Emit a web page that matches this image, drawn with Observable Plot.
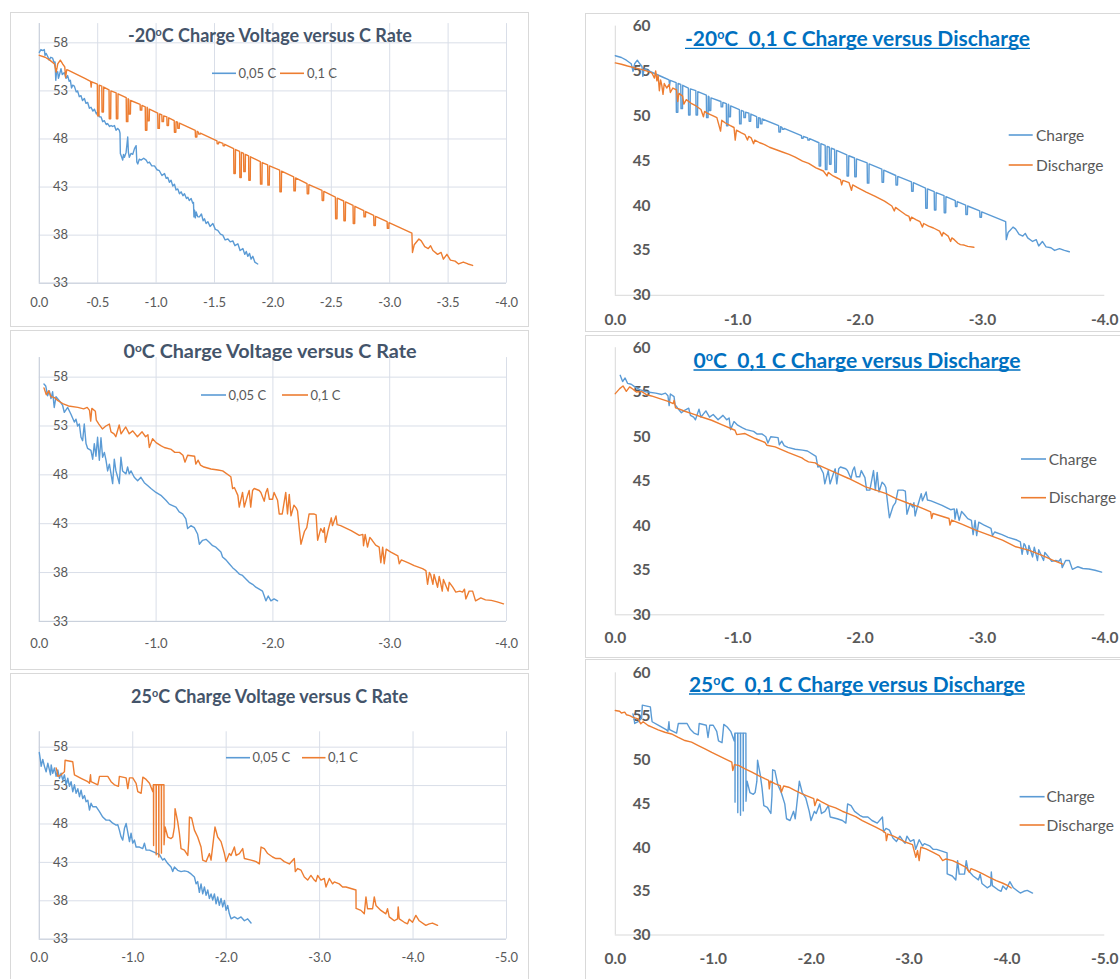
<!DOCTYPE html>
<html><head><meta charset="utf-8">
<script src="https://cdn.jsdelivr.net/npm/d3@7"></script>
<script src="https://cdn.jsdelivr.net/npm/@observablehq/plot@0.6"></script>
<style>
html,body{margin:0;padding:0;background:#fff;}
body{width:1120px;height:979px;overflow:hidden;position:relative;font-family:Lato,"Open Sans",sans-serif;}
.box{position:absolute;border:1px solid #d9d9d9;box-sizing:border-box;}
</style></head><body>
<script>
// ---------------- DATA (x = C rate, y = voltage) ----------------
const xTicksHalf = [0,-0.5,-1,-1.5,-2,-2.5,-3,-3.5,-4];
const xTicks4 = [0,-1,-2,-3,-4];
const xTicks5 = [0,-1,-2,-3,-4,-5];
const yTicksLeft = [33,38,43,48,53,58];
const yTicksRight = [30,35,40,45,50,55,60];

const leftTitles = [["-20","C Charge Voltage versus C Rate"],["0","C Charge Voltage versus C Rate"],["25","C Charge Voltage versus C Rate"]];
const rightTitles = [["-20","C  0,1 C Charge versus Discharge"],["0","C  0,1 C Charge versus Discharge"],["25","C  0,1 C Charge versus Discharge"]];
const leftNames = ["0,05 C","0,1 C"];
const rightNames = ["Charge","Discharge"];

// -20 C, 0.05 C
const m20_005 = [[0,57.0],[-0.014,57.3],[-0.029,57.2],[-0.043,57.3],[-0.049,56.7],[-0.058,56.9],[-0.071,56.6],[-0.085,56.2],[-0.098,56.5],[-0.114,56.4],[-0.128,55.9],[-0.135,56.0],[-0.141,54.1],[-0.147,54.9],[-0.157,55.0],[-0.164,54.3],[-0.171,54.6],[-0.186,55.3],[-0.197,54.7],[-0.215,54.9],[-0.229,54.3],[-0.242,54.6],[-0.256,54.0],[-0.266,54.1],[-0.276,53.3],[-0.286,53.6],[-0.300,53.5],[-0.316,52.9],[-0.328,53.0],[-0.342,52.4],[-0.357,52.5],[-0.370,52.0],[-0.386,52.2],[-0.400,51.7],[-0.414,51.8],[-0.429,51.2],[-0.443,51.3],[-0.459,50.9],[-0.472,51.1],[-0.489,50.6],[-0.500,50.8],[-0.513,50.3],[-0.528,50.3],[-0.543,49.8],[-0.557,49.9],[-0.573,49.5],[-0.585,49.6],[-0.602,49.3],[-0.614,49.4],[-0.629,49.3],[-0.643,49.4],[-0.657,48.9],[-0.671,49.1],[-0.685,48.9],[-0.691,48.6],[-0.694,46.5],[-0.706,46.1],[-0.714,45.8],[-0.721,46.4],[-0.729,46.1],[-0.743,46.6],[-0.751,47.5],[-0.757,48.2],[-0.763,46.6],[-0.771,46.1],[-0.785,46.5],[-0.800,46.4],[-0.815,47.0],[-0.829,47.3],[-0.835,45.6],[-0.843,45.4],[-0.856,45.9],[-0.871,45.8],[-0.894,46.0],[-0.915,45.8],[-0.929,45.5],[-0.943,45.6],[-0.963,45.2],[-0.986,45.2],[-1.008,44.8],[-1.028,44.7],[-1.050,44.2],[-1.072,44.4],[-1.087,43.9],[-1.100,44.0],[-1.114,43.5],[-1.128,43.7],[-1.143,43.1],[-1.157,43.3],[-1.171,42.7],[-1.186,42.8],[-1.200,42.3],[-1.214,42.5],[-1.230,42.1],[-1.243,42.3],[-1.260,41.8],[-1.272,41.95],[-1.284,41.6],[-1.300,41.8],[-1.314,41.3],[-1.320,41.4],[-1.324,39.9],[-1.329,40.6],[-1.336,39.8],[-1.343,40.4],[-1.357,39.9],[-1.371,39.9],[-1.388,40.2],[-1.403,39.5],[-1.414,39.7],[-1.428,39.2],[-1.443,39.4],[-1.462,38.9],[-1.486,39.2],[-1.507,38.6],[-1.528,38.5],[-1.551,38.1],[-1.571,38.0],[-1.591,37.5],[-1.615,37.6],[-1.635,37.3],[-1.657,37.4],[-1.675,36.9],[-1.700,37.1],[-1.719,36.4],[-1.743,36.6],[-1.759,36.0],[-1.772,36.3],[-1.785,35.8],[-1.800,36.1],[-1.813,35.5],[-1.828,35.8],[-1.845,35.2],[-1.87,35.0]];

// -20 C, 0.1 C (also the Charge curve of the -20 C comparison)
const m20_01 = [[0,56.7],[-0.05,56.5],[-0.09,56.2],[-0.13,55.8],[-0.145,54.95],[-0.158,55.8],[-0.18,56.2],[-0.20,55.8],[-0.218,55.5],[-0.225,54.4],[-0.235,55.2],[-0.242,55.19],[-0.390,54.3],[-0.439,54.0],[-0.444,53.4],[-0.449,53.95],
[-0.497,53.7],[-0.499,50.4],[-0.511,50.4],[-0.513,53.6],
[-0.535,53.5],[-0.537,50.8],[-0.549,50.8],[-0.551,53.4],
[-0.597,53.1],[-0.599,50.1],[-0.611,50.1],[-0.613,53.0],
[-0.658,52.8],[-0.660,50.1],[-0.672,50.1],[-0.674,52.7],
[-0.744,52.3],[-0.746,49.8],[-0.758,49.8],[-0.760,52.2],
[-0.766,52.1],[-0.768,50.6],[-0.780,50.6],[-0.782,52.0],
[-0.863,51.6],[-0.865,51.0],[-0.877,51.0],[-0.879,51.5],
[-0.907,51.35],[-0.909,48.9],[-0.921,48.9],[-0.923,51.3],
[-0.927,51.2],[-0.929,49.9],[-0.941,49.9],[-0.943,51.1],
[-1.014,50.7],[-1.016,49.1],[-1.028,49.1],[-1.030,50.6],
[-1.049,50.5],[-1.051,49.8],[-1.063,49.8],[-1.065,50.4],
[-1.092,50.3],[-1.094,49.4],[-1.106,49.4],[-1.108,50.2],
[-1.155,49.9],[-1.157,48.7],[-1.169,48.7],[-1.171,49.8],
[-1.184,49.75],[-1.186,49.1],[-1.198,49.1],[-1.200,49.65],
[-1.335,48.9],[-1.337,48.2],[-1.349,48.2],[-1.351,48.8],
[-1.363,48.7],[-1.365,48.5],[-1.377,48.5],[-1.379,48.6],
[-1.521,47.8],[-1.523,47.5],[-1.535,47.5],[-1.537,47.7],
[-1.572,47.55],[-1.574,47.3],[-1.586,47.3],[-1.588,47.45],
[-1.664,47.0],[-1.666,44.4],[-1.678,44.4],[-1.680,46.9],
[-1.715,46.7],[-1.717,44.0],[-1.729,44.0],[-1.731,46.6],
[-1.749,46.5],[-1.751,44.6],[-1.763,44.6],[-1.765,46.4],
[-1.792,46.25],[-1.794,43.7],[-1.806,43.7],[-1.808,46.15],
[-1.892,45.65],[-1.894,43.3],[-1.906,43.3],[-1.908,45.55],
[-1.955,45.3],[-1.957,43.2],[-1.969,43.2],[-1.971,45.2],
[-2.058,44.75],[-2.060,42.5],[-2.072,42.5],[-2.074,44.65],
[-2.178,44.05],[-2.180,42.6],[-2.192,42.6],[-2.194,43.95],
[-2.292,43.35],[-2.294,42.3],[-2.306,42.3],[-2.308,43.25],
[-2.420,42.65],[-2.422,41.6],[-2.434,41.6],[-2.436,42.55],
[-2.535,41.95],[-2.537,39.7],[-2.549,39.7],[-2.551,41.85],
[-2.606,41.55],[-2.608,39.5],[-2.620,39.5],[-2.622,41.45],
[-2.686,41.1],[-2.688,39.2],[-2.700,39.2],[-2.702,41.0],
[-2.778,40.55],[-2.780,39.9],[-2.792,39.9],[-2.794,40.45],
[-2.863,40.05],[-2.865,39.0],[-2.877,39.0],[-2.879,39.95],
[-2.978,39.4],[-2.980,38.7],[-2.992,38.7],[-2.994,39.3],
[-3.19,38.2],[-3.195,36.2],[-3.21,37.0],[-3.25,37.6],[-3.27,37.4],[-3.30,36.8],[-3.33,36.6],[-3.35,36.9],[-3.37,36.4],[-3.41,36.0],[-3.44,36.2],[-3.46,35.5],[-3.49,36.0],[-3.52,35.4],[-3.56,35.3],[-3.59,35.0],[-3.63,35.2],[-3.67,35.0],[-3.71,34.85]];

// -20 C, 0.1 C discharge
const m20_dis = [[0,55.9],[-0.05,55.75],[-0.10,55.55],[-0.16,55.35],[-0.22,55.15],[-0.28,54.9],[-0.30,54.75],[-0.32,54.2],[-0.33,55.0],[-0.34,53.9],[-0.35,54.5],[-0.36,52.8],[-0.37,54.0],[-0.38,53.4],[-0.39,52.4],[-0.40,53.6],[-0.42,53.1],[-0.44,53.5],[-0.45,52.6],[-0.47,53.1],[-0.50,52.9],[-0.51,51.6],[-0.52,52.5],[-0.55,52.2],[-0.56,51.3],[-0.58,51.8],[-0.62,51.4],[-0.66,51.1],[-0.70,50.7],[-0.72,49.9],[-0.73,50.5],[-0.75,50.3],[-0.80,50.0],[-0.83,49.8],[-0.86,48.3],[-0.87,49.5],[-0.90,49.2],[-0.94,48.9],[-0.97,48.7],[-0.98,47.3],[-0.99,48.4],[-1.03,48.1],[-1.06,47.9],[-1.08,47.3],[-1.09,47.7],[-1.11,47.55],[-1.13,46.9],[-1.14,47.3],[-1.18,47.0],[-1.22,46.8],[-1.26,46.5],[-1.31,46.25],[-1.36,46.0],[-1.42,45.7],[-1.47,45.4],[-1.53,44.95],[-1.58,44.7],[-1.64,44.2],[-1.70,43.85],[-1.73,43.3],[-1.74,43.7],[-1.78,43.3],[-1.81,43.1],[-1.84,42.9],[-1.85,42.3],[-1.86,42.8],[-1.91,42.55],[-1.93,41.7],[-1.94,42.3],[-1.98,42.0],[-2.05,41.5],[-2.12,41.05],[-2.20,40.5],[-2.26,39.95],[-2.28,39.4],[-2.29,39.8],[-2.33,39.4],[-2.37,39.0],[-2.40,38.8],[-2.41,38.3],[-2.42,38.7],[-2.46,38.4],[-2.49,38.2],[-2.51,37.6],[-2.52,38.0],[-2.56,37.7],[-2.60,37.5],[-2.65,37.15],[-2.67,36.6],[-2.68,37.0],[-2.72,36.6],[-2.74,36.0],[-2.75,36.4],[-2.77,36.2],[-2.80,35.8],[-2.82,35.65],[-2.85,35.6],[-2.88,35.45],[-2.93,35.35]];

// 0 C, 0.05 C
const o0_005 = [[-0.04,57.3],[-0.055,57.1],[-0.071,56.1],[-0.086,56.6],[-0.10,55.8],[-0.114,56.5],[-0.128,54.9],[-0.143,56.0],[-0.171,55.6],[-0.20,55.1],[-0.214,54.4],[-0.243,54.9],[-0.271,54.2],[-0.30,53.4],[-0.314,53.7],[-0.328,53.0],[-0.343,53.2],[-0.357,51.85],[-0.371,51.5],[-0.385,53.2],[-0.40,51.2],[-0.414,50.7],[-0.442,50.5],[-0.457,49.6],[-0.471,51.2],[-0.485,49.9],[-0.499,51.85],[-0.514,49.5],[-0.528,51.8],[-0.542,49.8],[-0.557,50.3],[-0.571,49.5],[-0.585,48.4],[-0.60,49.1],[-0.628,47.1],[-0.642,49.6],[-0.656,48.4],[-0.67,47.8],[-0.685,47.1],[-0.699,49.8],[-0.713,48.4],[-0.742,48.1],[-0.756,48.8],[-0.77,48.1],[-0.785,48.4],[-0.813,47.75],[-0.842,47.4],[-0.87,47.75],[-0.899,47.2],[-0.927,46.9],[-0.956,46.6],[-0.999,46.2],[-1.041,45.9],[-1.084,45.4],[-1.113,45.0],[-1.141,44.85],[-1.17,44.7],[-1.198,44.2],[-1.227,44.0],[-1.255,43.5],[-1.27,42.5],[-1.298,42.8],[-1.327,42.6],[-1.355,41.95],[-1.37,40.9],[-1.398,41.3],[-1.427,41.4],[-1.455,41.1],[-1.484,40.75],[-1.512,40.6],[-1.555,40.1],[-1.569,39.6],[-1.598,39.3],[-1.626,38.9],[-1.655,38.5],[-1.683,38.2],[-1.712,37.85],[-1.74,37.7],[-1.769,37.35],[-1.797,37.0],[-1.826,36.8],[-1.854,36.5],[-1.883,36.3],[-1.911,36.1],[-1.926,35.6],[-1.94,35.1],[-1.96,35.6],[-1.983,35.1],[-2.01,35.3],[-2.04,35.1]];

// 0 C, 0.1 C (also the Charge curve of the 0 C comparison)
const o0_01 = [[-0.04,56.9],[-0.06,56.2],[-0.08,56.6],[-0.10,56.0],[-0.13,55.9],[-0.16,55.6],[-0.20,55.3],[-0.25,55.05],[-0.33,54.9],[-0.38,54.75],[-0.41,54.9],[-0.43,54.6],[-0.44,53.5],[-0.45,54.8],[-0.48,54.5],[-0.488,53.6],[-0.51,53.2],[-0.54,52.7],[-0.57,53.0],[-0.60,53.2],[-0.614,52.4],[-0.64,52.2],[-0.655,51.9],[-0.684,53.1],[-0.70,52.2],[-0.74,52.9],[-0.77,52.2],[-0.80,52.5],[-0.84,51.9],[-0.88,52.4],[-0.91,51.9],[-0.93,52.1],[-0.942,50.8],[-0.97,51.7],[-1.00,51.3],[-1.04,51.0],[-1.07,50.8],[-1.13,50.6],[-1.16,50.3],[-1.20,50.3],[-1.23,50.0],[-1.247,49.3],[-1.27,50.0],[-1.33,49.9],[-1.34,49.1],[-1.36,49.5],[-1.38,49.0],[-1.41,48.8],[-1.47,48.6],[-1.53,48.5],[-1.57,48.4],[-1.64,47.8],[-1.655,46.6],[-1.67,46.7],[-1.70,45.9],[-1.712,44.7],[-1.74,46.2],[-1.755,44.7],[-1.783,45.9],[-1.797,46.4],[-1.81,44.7],[-1.826,46.4],[-1.84,46.6],[-1.883,46.4],[-1.897,46.2],[-1.926,45.3],[-1.94,46.2],[-1.954,46.6],[-1.97,45.5],[-1.997,45.5],[-2.01,46.2],[-2.04,45.4],[-2.054,44.0],[-2.08,44.0],[-2.11,46.2],[-2.125,44.0],[-2.14,46.0],[-2.155,43.8],[-2.18,44.9],[-2.20,44.6],[-2.211,44.3],[-2.225,42.6],[-2.24,40.9],[-2.27,42.2],[-2.29,42.6],[-2.31,44.0],[-2.35,44.0],[-2.37,43.9],[-2.383,41.3],[-2.41,42.5],[-2.43,42.1],[-2.44,42.6],[-2.45,41.1],[-2.47,42.2],[-2.50,43.6],[-2.51,42.8],[-2.54,43.8],[-2.55,42.9],[-2.58,42.8],[-2.67,42.3],[-2.74,41.8],[-2.77,41.9],[-2.776,40.75],[-2.79,41.9],[-2.81,40.6],[-2.83,41.6],[-2.85,41.3],[-2.88,40.8],[-2.91,40.6],[-2.924,39.0],[-2.94,40.6],[-2.953,38.9],[-2.97,40.4],[-2.996,40.2],[-3.01,40.1],[-3.07,39.7],[-3.082,38.9],[-3.10,39.3],[-3.16,39.0],[-3.21,38.7],[-3.281,38.4],[-3.31,38.2],[-3.324,36.8],[-3.34,38.0],[-3.35,37.8],[-3.37,36.8],[-3.38,37.8],[-3.41,36.5],[-3.424,37.6],[-3.45,36.1],[-3.46,37.3],[-3.50,36.1],[-3.51,37.0],[-3.54,36.5],[-3.566,36.0],[-3.60,36.1],[-3.624,36.0],[-3.64,36.3],[-3.652,35.3],[-3.68,36.1],[-3.71,36.1],[-3.735,35.1],[-3.78,35.4],[-3.82,35.2],[-3.87,35.15],[-3.92,35.0],[-3.974,34.8]];

// 0 C, 0.1 C discharge
const o0_dis = [[0,54.84],[-0.036,55.4],[-0.063,55.7],[-0.09,55.1],[-0.117,55.6],[-0.145,55.33],[-0.172,55.03],[-0.213,55.1],[-0.254,54.73],[-0.295,54.58],[-0.363,54.28],[-0.432,53.98],[-0.473,53.72],[-0.481,54.09],[-0.492,53.24],[-0.514,53.16],[-0.568,52.86],[-0.650,52.49],[-0.705,52.22],[-0.787,51.85],[-0.869,51.36],[-0.978,50.73],[-0.992,50.24],[-1.060,50.36],[-1.142,49.8],[-1.224,49.35],[-1.238,49.05],[-1.306,48.86],[-1.415,48.22],[-1.525,47.63],[-1.552,47.36],[-1.579,47.18],[-1.634,47.07],[-1.661,46.8],[-1.798,45.98],[-1.907,45.31],[-1.989,44.75],[-2.044,44.37],[-2.071,44.26],[-2.208,43.63],[-2.290,43.07],[-2.399,42.5],[-2.481,42.13],[-2.577,41.57],[-2.585,40.82],[-2.596,41.38],[-2.727,40.82],[-2.735,40.07],[-2.749,40.64],[-2.836,40.15],[-2.945,39.51],[-3.055,38.95],[-3.164,38.39],[-3.273,37.64],[-3.383,37.23],[-3.492,36.64],[-3.574,36.15],[-3.656,35.7]];

// 25 C, 0.05 C
const p25_005 = [[0,57.3],[-0.012,56.3],[-0.02,55.5],[-0.037,56.4],[-0.055,55.5],[-0.073,54.8],[-0.091,55.9],[-0.109,55.0],[-0.12,54.4],[-0.127,55.7],[-0.144,54.6],[-0.162,55.3],[-0.18,54.2],[-0.198,55.04],[-0.216,53.95],[-0.233,54.6],[-0.251,53.7],[-0.269,54.4],[-0.287,53.1],[-0.305,53.95],[-0.323,52.9],[-0.34,53.5],[-0.358,52.2],[-0.376,53.1],[-0.394,51.99],[-0.412,52.6],[-0.43,51.55],[-0.447,52.4],[-0.465,51.3],[-0.483,51.7],[-0.501,50.9],[-0.519,51.1],[-0.537,49.8],[-0.554,50.7],[-0.572,50.25],[-0.608,50.25],[-0.644,49.6],[-0.679,48.9],[-0.715,48.5],[-0.75,48.5],[-0.786,48.1],[-0.822,47.85],[-0.84,47.9],[-0.857,47.2],[-0.875,46.33],[-0.893,45.9],[-0.911,47.4],[-0.929,48.07],[-0.947,46.9],[-0.965,45.7],[-0.982,46.8],[-1.0,45.5],[-1.018,45.9],[-1.036,45.0],[-1.072,45.0],[-1.107,44.8],[-1.125,45.5],[-1.143,44.6],[-1.179,44.6],[-1.215,44.4],[-1.25,44.2],[-1.286,44.0],[-1.321,43.3],[-1.339,43.5],[-1.375,42.84],[-1.41,42.4],[-1.428,41.8],[-1.446,42.4],[-1.481,41.97],[-1.517,41.8],[-1.553,41.9],[-1.589,41.8],[-1.624,41.5],[-1.66,41.1],[-1.678,40.2],[-1.695,40.5],[-1.713,39.1],[-1.731,40.2],[-1.749,38.9],[-1.767,39.8],[-1.785,38.7],[-1.803,39.4],[-1.82,38.3],[-1.838,38.9],[-1.856,38.1],[-1.874,38.9],[-1.892,37.6],[-1.909,38.5],[-1.927,37.4],[-1.945,38.3],[-1.963,37.2],[-1.981,38.05],[-1.999,36.75],[-2.016,37.4],[-2.034,36.3],[-2.052,35.65],[-2.088,35.9],[-2.123,35.65],[-2.159,35.9],[-2.195,35.4],[-2.23,35.65],[-2.266,35.1]];

// 25 C, 0.1 C (also the Charge curve of the 25 C comparison)
const p25_01 = [[-0.180,55.3],[-0.191,54.8],[-0.198,54.2],[-0.233,54.4],[-0.269,54.8],[-0.276,56.3],[-0.358,56.1],[-0.369,55.0],[-0.376,54.4],[-0.447,53.95],[-0.519,53.5],[-0.537,53.3],[-0.548,54.4],[-0.554,53.5],[-0.626,53.1],[-0.644,54.2],[-0.733,54.2],[-0.768,53.5],[-0.804,53.1],[-0.847,52.9],[-0.857,54.2],[-0.929,54.0],[-0.947,52.6],[-0.965,54.0],[-1.0,54.0],[-1.036,53.3],[-1.054,52.2],[-1.09,52.0],[-1.108,54.1],[-1.143,53.8],[-1.179,53.3],[-1.215,52.2],[-1.221,53.1],
[-1.222,53.1],[-1.223,45.2],[-1.224,53.1],
[-1.250,53.1],[-1.251,44.0],[-1.252,53.1],
[-1.278,53.1],[-1.279,43.7],[-1.280,53.1],
[-1.306,53.1],[-1.307,44.2],[-1.308,53.1],
[-1.334,53.1],[-1.335,45.3],
[-1.346,47.6],[-1.375,46.3],[-1.41,46.1],[-1.428,46.3],[-1.446,47.6],[-1.453,50.0],[-1.481,48.3],[-1.499,46.8],[-1.517,44.8],[-1.553,44.6],[-1.589,43.9],[-1.60,45.9],[-1.607,48.9],[-1.63,48.8],[-1.66,47.2],[-1.695,46.3],[-1.731,45.0],[-1.749,43.3],[-1.785,43.1],[-1.821,44.15],[-1.838,43.3],[-1.88,47.6],[-1.909,46.3],[-1.945,45.7],[-1.981,44.15],[-1.999,43.1],[-2.034,44.15],[-2.052,43.9],[-2.088,45.0],[-2.106,43.9],[-2.141,44.15],[-2.177,44.8],[-2.195,43.5],[-2.266,43.3],[-2.32,43.1],[-2.355,42.8],[-2.373,45.0],[-2.408,44.8],[-2.444,44.15],[-2.497,43.7],[-2.533,43.5],[-2.58,43.5],[-2.622,43.1],[-2.676,42.8],[-2.729,43.5],[-2.74,41.8],[-2.765,42.2],[-2.80,42.0],[-2.836,41.1],[-2.872,40.7],[-2.907,41.3],[-2.943,40.7],[-2.96,40.5],[-2.979,41.3],[-3.014,40.7],[-3.05,40.9],[-3.068,39.8],[-3.104,40.9],[-3.139,40.2],[-3.157,40.45],[-3.21,40.2],[-3.246,39.8],[-3.282,39.8],[-3.335,39.6],[-3.389,39.4],[-3.39,37.0],[-3.442,36.75],[-3.478,36.3],[-3.496,38.5],[-3.513,36.96],[-3.567,36.96],[-3.585,38.5],[-3.603,37.4],[-3.656,36.75],[-3.709,36.3],[-3.727,36.96],[-3.745,35.9],[-3.799,35.4],[-3.834,35.65],[-3.841,37.2],[-3.852,35.65],[-3.906,35.2],[-3.941,35.0],[-3.959,35.6],[-3.994,35.2],[-4.03,36.1],[-4.066,35.4],[-4.137,34.8],[-4.173,35.0],[-4.208,35.1],[-4.262,34.8]];

// 25 C, 0.1 C discharge
const p25_dis = [[0,55.69],[-0.044,55.6],[-0.062,55.4],[-0.096,55.5],[-0.113,55.2],[-0.147,55.1],[-0.181,54.9],[-0.232,54.73],[-0.260,54.16],[-0.284,54.4],[-0.335,53.97],[-0.369,53.8],[-0.438,53.47],[-0.506,53.2],[-0.574,53.0],[-0.643,52.6],[-0.711,52.25],[-0.779,52.06],[-0.848,51.68],[-0.916,51.3],[-0.985,50.9],[-1.053,50.53],[-1.121,50.15],[-1.190,49.77],[-1.200,48.82],[-1.217,49.5],[-1.258,49.4],[-1.326,49.0],[-1.395,48.63],[-1.463,48.24],[-1.532,47.86],[-1.566,47.7],[-1.573,46.72],[-1.583,47.6],[-1.634,47.29],[-1.685,47.1],[-1.696,46.34],[-1.720,47.05],[-1.771,46.91],[-1.839,46.53],[-1.908,46.15],[-1.976,45.84],[-2.027,45.6],[-2.038,44.8],[-2.062,45.55],[-2.113,45.19],[-2.181,44.8],[-2.250,44.54],[-2.318,44.16],[-2.386,43.85],[-2.455,43.55],[-2.523,43.09],[-2.591,42.71],[-2.660,42.33],[-2.728,41.95],[-2.762,41.65],[-2.769,40.8],[-2.783,41.55],[-2.831,41.37],[-2.899,40.99],[-2.968,40.61],[-3.036,40.34],[-3.070,38.89],[-3.087,39.66],[-3.104,38.51],[-3.121,40.04],[-3.173,39.85],[-3.241,39.47],[-3.309,39.08],[-3.344,38.51],[-3.378,38.7],[-3.446,38.51],[-3.515,38.13],[-3.583,37.75],[-3.617,37.18],[-3.634,37.6],[-3.685,37.36],[-3.754,36.98],[-3.822,36.6],[-3.891,36.22],[-3.959,35.92],[-4.010,35.65],[-4.044,35.38]];

// ---------------- LAYOUT / STYLE ----------------
const BLUE = "#5B9BD5", ORANGE = "#ED7D31";
const FONT = "Lato, 'Open Sans', sans-serif";
const panels = [
  {box:[9.5,12,529,326.5], frame:[38.3,505.5,23.1,282.7], xDomain:[0,-4], xTicks:xTicksHalf, yDomain:[33,60], yTicks:yTicksLeft, series:[m20_005,m20_01], grid:true, fs:13, fw:"normal", yDx:28.7, xPad:14.4},
  {box:[9.5,330,529,670], frame:[38.3,505.5,357.1,620.9], xDomain:[0,-4], xTicks:xTicks4, yDomain:[33,60], yTicks:yTicksLeft, series:[o0_005,o0_01], grid:true, fs:13, fw:"normal", yDx:28.7, xPad:17.2},
  {box:[9.5,673.3,529,990], frame:[38.3,505.5,731.6,939], xDomain:[0,-5], xTicks:xTicks5, yDomain:[33,60], yTicks:yTicksLeft, series:[p25_005,p25_01], grid:true, fs:13, fw:"normal", yDx:28.7, xPad:13.7},
  {box:[584.7,12.7,1130,332], frame:[614.5,1104,25.3,294.5], xDomain:[0,-4], xTicks:xTicks4, yDomain:[30,60], yTicks:yTicksRight, series:[m20_01,m20_dis], grid:false, fs:15.5, fw:"bold", yDx:35.3, xPad:18.4},
  {box:[584.7,335,1130,658.3], frame:[614.5,1104,347.2,614.3], xDomain:[0,-4], xTicks:xTicks4, yDomain:[30,60], yTicks:yTicksRight, series:[o0_01,o0_dis], grid:false, fs:15.5, fw:"bold", yDx:35.3, xPad:17},
  {box:[584.7,659,1130,990], frame:[614.5,1104,672.3,934.5], xDomain:[0,-5], xTicks:xTicks5, yDomain:[30,60], yTicks:yTicksRight, series:[p25_01,p25_dis], grid:false, fs:15.5, fw:"bold", yDx:35.3, xPad:17.8}
];

// borders
panels.forEach(p => {
  const [l,t,r,b] = p.box;
  const d = document.createElement("div");
  d.className = "box";
  Object.assign(d.style, {left:l+"px", top:t+"px", width:(r-l)+"px", height:(b-t)+"px"});
  document.body.appendChild(d);
});

// charts
panels.forEach(p => {
  const [l,t,r,b] = p.box;
  const [fx0,fx1,fy0,fy1] = p.frame;
  const marks = [];
  if (p.grid) {
    marks.push(Plot.gridX(p.xTicks, {stroke:"#d9dee8", strokeOpacity:1}));
    marks.push(Plot.gridY(p.yTicks, {stroke:"#d9dee8", strokeOpacity:1}));
  }
  marks.push(Plot.ruleX([0], {stroke: p.grid ? "#c8cfdb" : "#d9d9d9"}));
  marks.push(Plot.ruleY([p.yDomain[0]], {stroke: p.grid ? "#c8cfdb" : "#d9d9d9"}));
  marks.push(Plot.axisX(p.xTicks, {tickSize:0, tickPadding:p.xPad, tickFormat:d => d.toFixed(1), fontSize:p.fs, fontWeight:p.fw, label:null}));
  marks.push(Plot.axisY(p.yTicks, {tickSize:0, tickPadding:0, dx:p.yDx, fontSize:p.fs, fontWeight:p.fw, label:null}));
  const cols = [BLUE, ORANGE];
  p.series.forEach((s,i) => marks.push(Plot.line(s, {x:d => d[0], y:d => d[1], stroke:cols[i], strokeWidth:1.4})));
  const svg = Plot.plot({
    width:r-l, height:b-t,
    marginLeft:fx0-l, marginRight:r-fx1, marginTop:fy0-t, marginBottom:b-fy1,
    x:{domain:p.xDomain, label:null}, y:{domain:p.yDomain, label:null},
    style:{background:"transparent", fontFamily:FONT, color:"#595959", overflow:"visible"},
    marks
  });
  Object.assign(svg.style, {position:"absolute", left:l+"px", top:t+"px"});
  document.body.appendChild(svg);
});

// titles and legends
const ov = d3.select("body").append("svg")
  .attr("width",1120).attr("height",979)
  .style("position","absolute").style("left","0px").style("top","0px")
  .style("font-family",FONT);

const titleLayout = [
  {t:leftTitles[0], cx:270, cy:35, len:284, fs:18.5, color:"#44546A", ul:false},
  {t:leftTitles[1], cx:270, cy:351.7, len:293, fs:18.5, color:"#44546A", ul:false},
  {t:leftTitles[2], cx:269.6, cy:696.7, len:277, fs:18.5, color:"#44546A", ul:false},
  {t:rightTitles[0], cx:857.5, cy:38.3, len:345, fs:21, color:"#0070C0", ul:true},
  {t:rightTitles[1], cx:857, cy:360, len:327, fs:21, color:"#0070C0", ul:true},
  {t:rightTitles[2], cx:857, cy:684, len:336, fs:21, color:"#0070C0", ul:true}
];
titleLayout.forEach(o => {
  const tx = ov.append("text").attr("x",o.cx).attr("y",o.cy).attr("dy","0.36em")
    .attr("text-anchor","middle").attr("font-size",o.fs).attr("font-weight","bold")
    .attr("fill",o.color).attr("textLength",o.len).attr("lengthAdjust","spacingAndGlyphs")
    .style("white-space","pre");
  tx.append("tspan").text(o.t[0]);
  tx.append("tspan").attr("baseline-shift","super").attr("font-size",o.fs*0.6).text("o");
  tx.append("tspan").text(o.t[1]);
  if (o.ul) {
    ov.append("line").attr("x1",o.cx-o.len/2).attr("x2",o.cx+o.len/2)
      .attr("y1",o.cy+10).attr("y2",o.cy+10).attr("stroke",o.color).attr("stroke-width",1.3);
  }
});

const legendLayout = [
  {names:leftNames, items:[{x0:212,x1:236,tx:238.5,y:73.3},{x0:280,x1:304,tx:307,y:73.3}], fs:13},
  {names:leftNames, items:[{x0:201,x1:226,tx:228.5,y:395},{x0:282,x1:308,tx:310.5,y:395}], fs:13},
  {names:leftNames, items:[{x0:226,x1:250,tx:252.5,y:757.7},{x0:302,x1:325.5,tx:328,y:757.7}], fs:13},
  {names:rightNames, items:[{x0:1008.7,x1:1032.7,tx:1036,y:135},{x0:1008.7,x1:1032.7,tx:1036,y:165}], fs:15.5},
  {names:rightNames, items:[{x0:1021,x1:1046,tx:1048.7,y:459},{x0:1021,x1:1046,tx:1048.7,y:497.7}], fs:15.5},
  {names:rightNames, items:[{x0:1019.6,x1:1044.6,tx:1046.5,y:796.7},{x0:1019.6,x1:1044.6,tx:1046.5,y:825}], fs:15.5}
];
legendLayout.forEach(L => {
  L.items.forEach((it,i) => {
    ov.append("line").attr("x1",it.x0).attr("x2",it.x1).attr("y1",it.y).attr("y2",it.y)
      .attr("stroke", i === 0 ? BLUE : ORANGE).attr("stroke-width",1.6);
    ov.append("text").attr("x",it.tx).attr("y",it.y).attr("dy","0.36em")
      .attr("font-size",L.fs).attr("fill","#595959").text(L.names[i]);
  });
});
</script>
</body></html>
